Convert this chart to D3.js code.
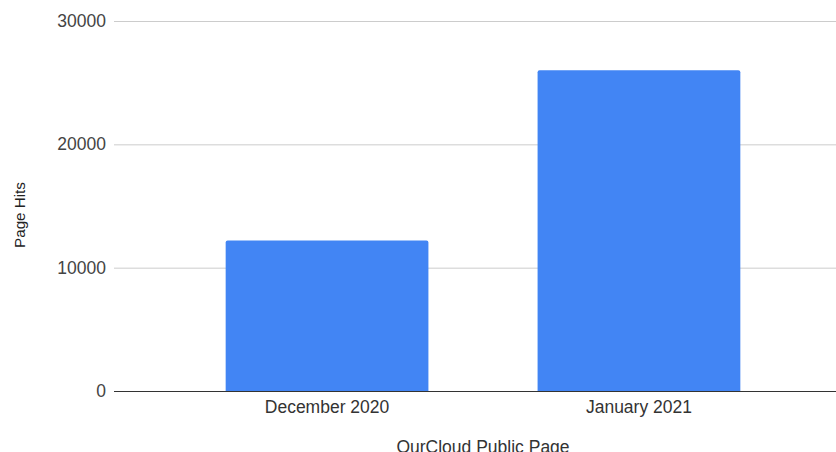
<!DOCTYPE html>
<html>
<head>
<meta charset="utf-8">
<script src="https://cdn.jsdelivr.net/npm/d3@7"></script>
<style>
  body { margin: 0; background: #fff; }
  text { font-family: "Liberation Sans", Arial, sans-serif; fill: #222; }
</style>
</head>
<body>
<svg width="836" height="452"></svg>
<script>
// data
const months = ['December 2020', 'January 2021'];
const hits = [12200, 26000];
const yTicks = [0, 10000, 20000, 30000];

const width = 836, height = 452;
const margin = { top: 21, right: -16, bottom: 61, left: 114 };

const svg = d3.select('svg');

const x = d3.scaleBand()
  .domain(months)
  .range([margin.left, width - margin.right])
  .paddingInner(0.35)
  .paddingOuter(0.358);

const y = d3.scaleLinear()
  .domain([0, 30000])
  .range([height - margin.bottom, margin.top]);

// gridlines
svg.append('g')
  .selectAll('line')
  .data(yTicks.slice(1))
  .enter().append('line')
  .attr('x1', margin.left)
  .attr('x2', width)
  .attr('y1', d => y(d) + 0.5)
  .attr('y2', d => y(d) + 0.5)
  .attr('stroke', '#ccc')
  .attr('stroke-width', 1);

// bars, small rounded top corners
const r = 2;
svg.append('g')
  .selectAll('path')
  .data(hits)
  .enter().append('path')
  .attr('fill', '#4285f4')
  .attr('d', (d, i) => {
    const x0 = x(months[i]), w = x.bandwidth();
    const y0 = y(d), y1 = y(0);
    return `M${x0},${y1}V${y0 + r}Q${x0},${y0} ${x0 + r},${y0}H${x0 + w - r}Q${x0 + w},${y0} ${x0 + w},${y0 + r}V${y1}Z`;
  });

// baseline
svg.append('line')
  .attr('x1', margin.left)
  .attr('x2', width)
  .attr('y1', y(0) + 0.5)
  .attr('y2', y(0) + 0.5)
  .attr('stroke', '#333')
  .attr('stroke-width', 1);

// y tick labels
svg.append('g')
  .selectAll('text')
  .data(yTicks)
  .enter().append('text')
  .attr('x', 106)
  .attr('y', d => y(d))
  .attr('dy', '0.34em')
  .attr('text-anchor', 'end')
  .style('font-size', '17.5px')
  .style('fill', '#444')
  .text(d => d);

// x labels
svg.append('g')
  .selectAll('text')
  .data(months)
  .enter().append('text')
  .attr('x', d => x(d) + x.bandwidth() / 2)
  .attr('y', 413)
  .attr('text-anchor', 'middle')
  .style('font-size', '17.5px')
  .style('fill', '#333')
  .text(d => d);

// axis titles
svg.append('text')
  .attr('x', (margin.left + width - margin.right) / 2)
  .attr('y', 453)
  .attr('text-anchor', 'middle')
  .style('font-size', '17.5px')
  .style('fill', '#333')
  .text('OurCloud Public Page');

svg.append('text')
  .attr('transform', 'translate(25,215) rotate(-90)')
  .attr('text-anchor', 'middle')
  .style('font-size', '15.2px')
  .style('fill', '#222')
  .text('Page Hits');
</script>
</body>
</html>
